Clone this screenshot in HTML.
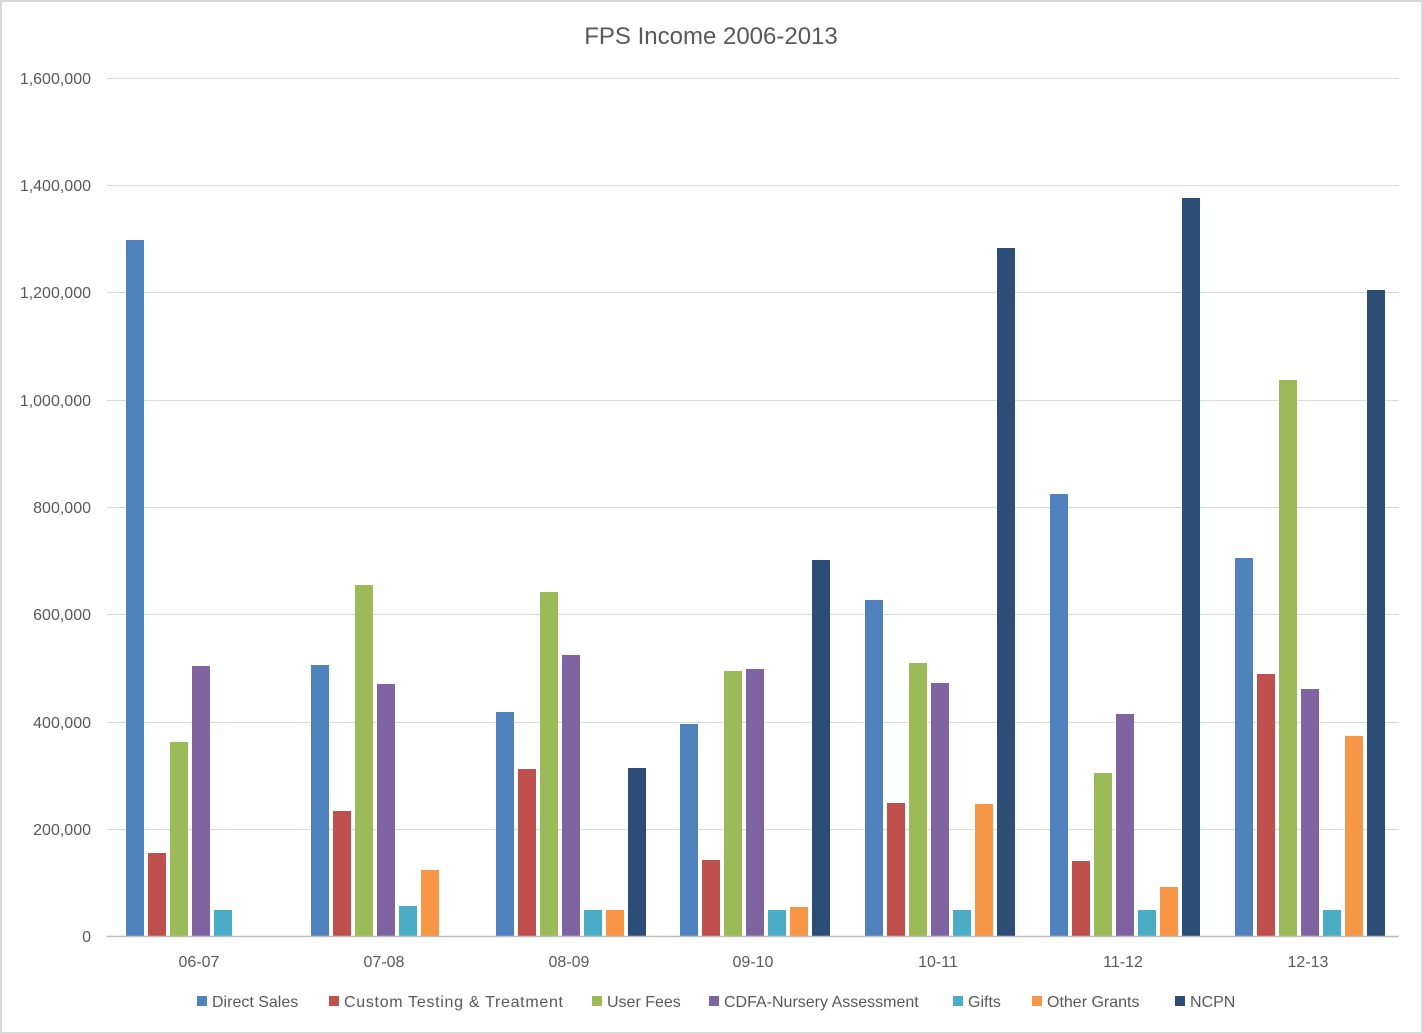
<!DOCTYPE html>
<html><head><style>
html,body{margin:0;padding:0;background:#fff;}
svg{display:block;font-family:"Liberation Sans",sans-serif;}
</style></head><body>
<svg width="1423" height="1034" viewBox="0 0 1423 1034">
<rect x="1" y="1" width="1421" height="1032" fill="#fff" stroke="#d9d9d9" stroke-width="2"/>
<text x="711" y="44" text-anchor="middle" font-size="24" fill="#595959">FPS Income 2006-2013</text>
<g stroke="#d9d9d9" stroke-width="1">
<line x1="107" x2="1399" y1="78.5" y2="78.5"/>
<line x1="107" x2="1399" y1="185.5" y2="185.5"/>
<line x1="107" x2="1399" y1="292.5" y2="292.5"/>
<line x1="107" x2="1399" y1="400.5" y2="400.5"/>
<line x1="107" x2="1399" y1="507.5" y2="507.5"/>
<line x1="107" x2="1399" y1="614.5" y2="614.5"/>
<line x1="107" x2="1399" y1="722.5" y2="722.5"/>
<line x1="107" x2="1399" y1="829.5" y2="829.5"/>
</g>
<g font-size="16" fill="#595959" text-anchor="end">
<text x="91" y="84">1,600,000</text>
<text x="91" y="191">1,400,000</text>
<text x="91" y="298">1,200,000</text>
<text x="91" y="406">1,000,000</text>
<text x="91" y="513">800,000</text>
<text x="91" y="620">600,000</text>
<text x="91" y="728">400,000</text>
<text x="91" y="835">200,000</text>
<text x="91" y="942">0</text>
</g>
<g>
<rect x="126" y="240" width="18" height="696" fill="#4F81BD"/>
<rect x="148" y="853" width="18" height="83" fill="#C0504D"/>
<rect x="170" y="742" width="18" height="194" fill="#9BBB59"/>
<rect x="192" y="666" width="18" height="270" fill="#8064A2"/>
<rect x="214" y="910" width="18" height="26" fill="#4BACC6"/>

<rect x="311" y="665" width="18" height="271" fill="#4F81BD"/>
<rect x="333" y="811" width="18" height="125" fill="#C0504D"/>
<rect x="355" y="585" width="18" height="351" fill="#9BBB59"/>
<rect x="377" y="684" width="18" height="252" fill="#8064A2"/>
<rect x="399" y="906" width="18" height="30" fill="#4BACC6"/>
<rect x="421" y="870" width="18" height="66" fill="#F79646"/>

<rect x="496" y="712" width="18" height="224" fill="#4F81BD"/>
<rect x="518" y="769" width="18" height="167" fill="#C0504D"/>
<rect x="540" y="592" width="18" height="344" fill="#9BBB59"/>
<rect x="562" y="655" width="18" height="281" fill="#8064A2"/>
<rect x="584" y="910" width="18" height="26" fill="#4BACC6"/>
<rect x="606" y="910" width="18" height="26" fill="#F79646"/>
<rect x="628" y="768" width="18" height="168" fill="#2C4D75"/>

<rect x="680" y="724" width="18" height="212" fill="#4F81BD"/>
<rect x="702" y="860" width="18" height="76" fill="#C0504D"/>
<rect x="724" y="671" width="18" height="265" fill="#9BBB59"/>
<rect x="746" y="669" width="18" height="267" fill="#8064A2"/>
<rect x="768" y="910" width="18" height="26" fill="#4BACC6"/>
<rect x="790" y="907" width="18" height="29" fill="#F79646"/>
<rect x="812" y="560" width="18" height="376" fill="#2C4D75"/>

<rect x="865" y="600" width="18" height="336" fill="#4F81BD"/>
<rect x="887" y="803" width="18" height="133" fill="#C0504D"/>
<rect x="909" y="663" width="18" height="273" fill="#9BBB59"/>
<rect x="931" y="683" width="18" height="253" fill="#8064A2"/>
<rect x="953" y="910" width="18" height="26" fill="#4BACC6"/>
<rect x="975" y="804" width="18" height="132" fill="#F79646"/>
<rect x="997" y="248" width="18" height="688" fill="#2C4D75"/>

<rect x="1050" y="494" width="18" height="442" fill="#4F81BD"/>
<rect x="1072" y="861" width="18" height="75" fill="#C0504D"/>
<rect x="1094" y="773" width="18" height="163" fill="#9BBB59"/>
<rect x="1116" y="714" width="18" height="222" fill="#8064A2"/>
<rect x="1138" y="910" width="18" height="26" fill="#4BACC6"/>
<rect x="1160" y="887" width="18" height="49" fill="#F79646"/>
<rect x="1182" y="198" width="18" height="738" fill="#2C4D75"/>

<rect x="1235" y="558" width="18" height="378" fill="#4F81BD"/>
<rect x="1257" y="674" width="18" height="262" fill="#C0504D"/>
<rect x="1279" y="380" width="18" height="556" fill="#9BBB59"/>
<rect x="1301" y="689" width="18" height="247" fill="#8064A2"/>
<rect x="1323" y="910" width="18" height="26" fill="#4BACC6"/>
<rect x="1345" y="736" width="18" height="200" fill="#F79646"/>
<rect x="1367" y="290" width="18" height="646" fill="#2C4D75"/>
</g>
<line x1="107" x2="1399" y1="936.5" y2="936.5" stroke="#bfbfbf" stroke-width="1.5"/>
<g font-size="16" fill="#595959" text-anchor="middle">
<text x="199" y="967">06-07</text>
<text x="384" y="967">07-08</text>
<text x="569" y="967">08-09</text>
<text x="753" y="967">09-10</text>
<text x="938" y="967">10-11</text>
<text x="1123" y="967">11-12</text>
<text x="1308" y="967">12-13</text>
</g>
<g font-size="16" fill="#595959">
<rect x="197" y="996" width="10" height="10" fill="#4F81BD"/><text x="212" y="1007">Direct Sales</text>
<rect x="329" y="996" width="10" height="10" fill="#C0504D"/><text x="344" y="1007" textLength="219">Custom Testing &amp; Treatment</text>
<rect x="592" y="996" width="10" height="10" fill="#9BBB59"/><text x="607" y="1007">User Fees</text>
<rect x="709" y="996" width="10" height="10" fill="#8064A2"/><text x="724" y="1007">CDFA-Nursery Assessment</text>
<rect x="953" y="996" width="10" height="10" fill="#4BACC6"/><text x="968" y="1007">Gifts</text>
<rect x="1032" y="996" width="10" height="10" fill="#F79646"/><text x="1047" y="1007">Other Grants</text>
<rect x="1175" y="996" width="10" height="10" fill="#2C4D75"/><text x="1190" y="1007">NCPN</text>
</g>
</svg>
</body></html>
